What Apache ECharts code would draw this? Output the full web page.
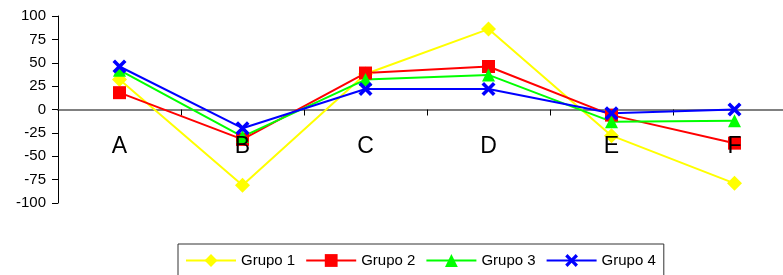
<!DOCTYPE html>
<html>
<head>
<meta charset="utf-8">
<script src="https://cdn.jsdelivr.net/npm/echarts@6/dist/echarts.min.js"></script>
<style>
  html, body { margin: 0; padding: 0; background: #fff; }
  #chart { width: 783px; height: 275px; }
</style>
</head>
<body>
<div id="chart"></div>
<script>
// categorias y valores
const categories = ["A", "B", "C", "D", "E", "F"];
const grupo1 = [32, -81, 38, 86, -28, -79];
const grupo2 = [18, -32, 39, 46, -6, -36];
const grupo3 = [42, -29, 32, 37, -13, -12];
const grupo4 = [46, -20, 22, 22, -4, 0];
const seriesNames = ["Grupo 1", "Grupo 2", "Grupo 3", "Grupo 4"];
const yTicks = { min: -100, max: 100, step: 25 };

// X marker as a filled shape so it also shows in the legend
const crossPath = "path://M0,1.8 L1.8,0 L5,3.2 L8.2,0 L10,1.8 L6.8,5 L10,8.2 L8.2,10 L5,6.8 L1.8,10 L0,8.2 L3.2,5 Z";

function makeSeries(name, data, color, symbol, size) {
  return {
    name: name,
    type: "line",
    data: data,
    symbol: symbol,
    symbolSize: size,
    showAllSymbol: true,
    lineStyle: { color: color, width: 2 },
    itemStyle: { color: color, borderWidth: 0 },
    emphasis: { disabled: true },
    animation: false
  };
}

let myChart = echarts.init(document.getElementById("chart"));
myChart.setOption({
  textStyle: { fontFamily: "Liberation Sans, Arial, sans-serif" },
  grid: { left: 58, width: 738, top: 16, bottom: 72, outerBoundsMode: "none" },
  legend: {
    left: 178,
    top: 244,
    padding: [9, 8, 20, 7],
    itemGap: 10,
    itemWidth: 50,
    itemHeight: 16,
    borderColor: "#333",
    borderWidth: 1,
    textStyle: { fontSize: 15, color: "#000", fontFamily: "Liberation Sans, Arial, sans-serif" },
    data: seriesNames
  },
  xAxis: [
    {
      // linea del eje en cero
      type: "category",
      data: categories,
      boundaryGap: true,
      axisLine: { onZero: true, lineStyle: { color: "#808080", width: 2 } },
      axisTick: { show: true, length: 6, lineStyle: { color: "#000" } },
      axisLabel: { show: false },
      splitLine: { show: false }
    },
    {
      // etiquetas encima de las series
      type: "category",
      data: categories,
      position: "bottom",
      boundaryGap: true,
      z: 10,
      axisLine: { show: false },
      axisTick: { show: false },
      axisLabel: { color: "#000", fontSize: 23, margin: -68 },
      splitLine: { show: false }
    }
  ],
  yAxis: {
    type: "value",
    min: yTicks.min,
    max: yTicks.max,
    interval: yTicks.step,
    axisLine: { show: true, lineStyle: { color: "#000" } },
    axisTick: { show: true, length: 6, lineStyle: { color: "#000" } },
    axisLabel: { color: "#000", fontSize: 15, margin: 12 },
    splitLine: { show: false }
  },
  series: [
    makeSeries(seriesNames[0], grupo1, "#ffff00", "diamond", 15),
    makeSeries(seriesNames[1], grupo2, "#ff0000", "rect", 13),
    makeSeries(seriesNames[2], grupo3, "#00ff00", "triangle", 13),
    makeSeries(seriesNames[3], grupo4, "#0000ff", crossPath, 14)
  ]
});
</script>
</body>
</html>
